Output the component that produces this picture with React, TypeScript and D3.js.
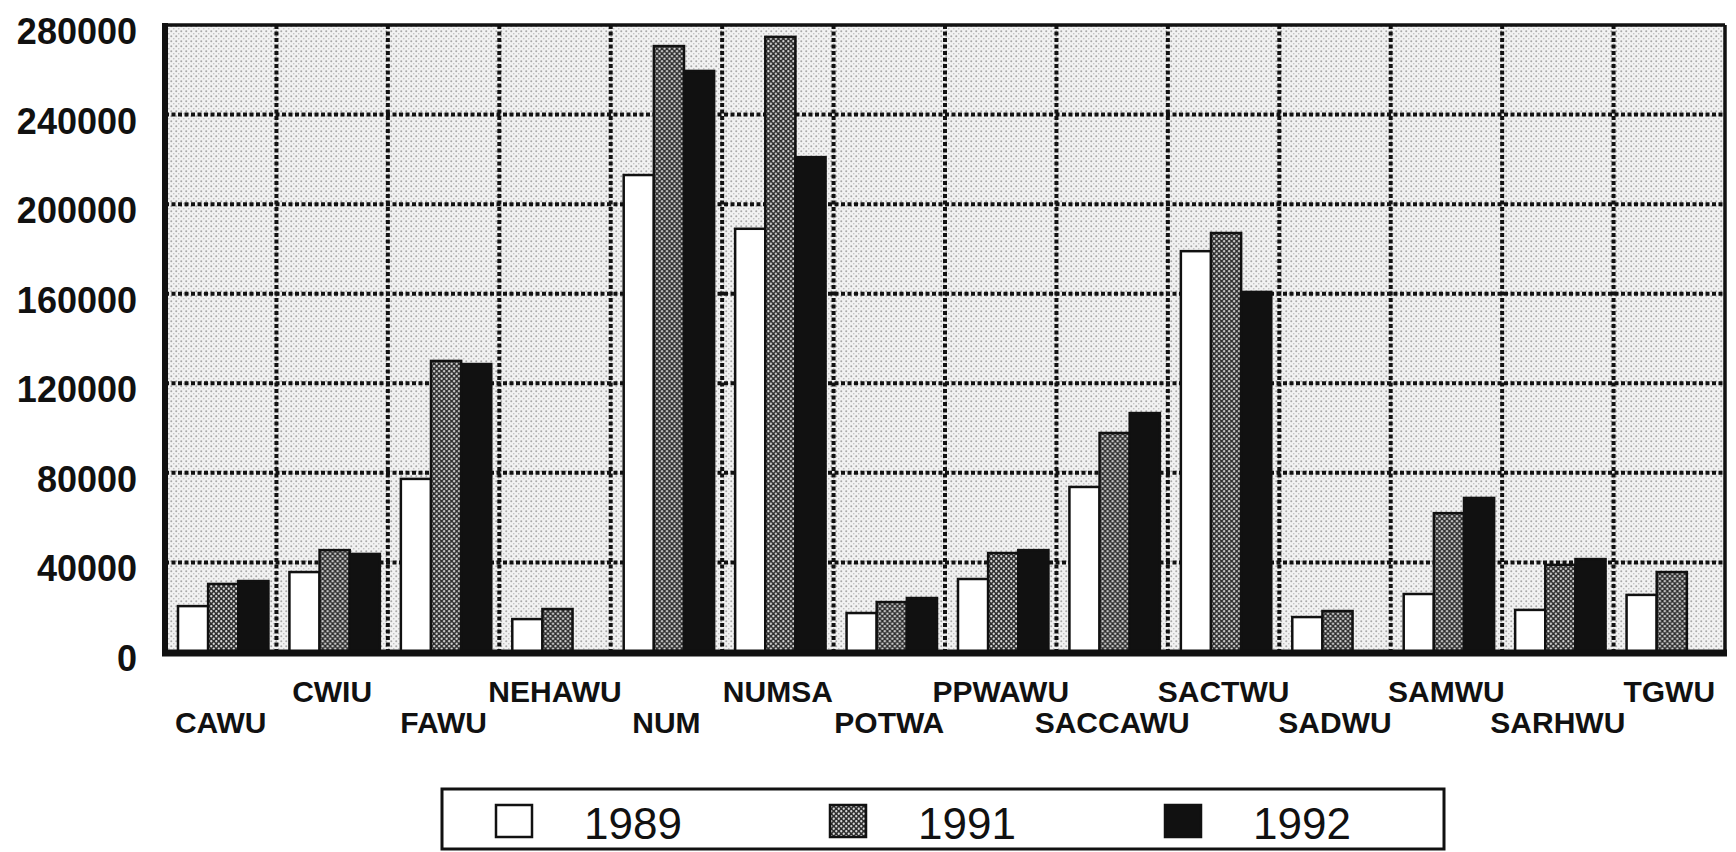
import React, { useRef, useEffect } from 'react';
import * as d3 from 'd3';

const categories = [
  'CAWU', 'CWIU', 'FAWU', 'NEHAWU', 'NUM', 'NUMSA', 'POTWA',
  'PPWAWU', 'SACCAWU', 'SACTWU', 'SADWU', 'SAMWU', 'SARHWU', 'TGWU',
];
const years = ['1989', '1991', '1992'];
const values1989 = [20500, 35700, 77300, 14700, 213000, 189000, 17400, 32600, 73700, 179000, 15600, 25900, 18800, 25500];
const values1991 = [30400, 45500, 130000, 19200, 270600, 274700, 22300, 44200, 97800, 187100, 18300, 62000, 38900, 35700];
const values1992 = [31700, 43800, 128600, 0, 259500, 221000, 24100, 45500, 106700, 160800, 0, 68800, 41500, 0];
const yTicks = [0, 40000, 80000, 120000, 160000, 200000, 240000, 280000];

const W = 1736;
const H = 852;

const App: React.FC = () => {
  const svgRef = useRef<SVGSVGElement | null>(null);

  useEffect(() => {
    if (!svgRef.current) return;
    const svg = d3.select(svgRef.current);
    svg.selectAll('*').remove();

    const margin = { top: 25, right: 11, bottom: 200, left: 165 };
    const font = '"Liberation Sans", Arial, Helvetica, sans-serif';

    const defs = svg.append('defs');
    // light stipple for the plot background
    const bg = defs.append('pattern').attr('id', 'stipple')
      .attr('patternUnits', 'userSpaceOnUse').attr('width', 5).attr('height', 5);
    bg.append('rect').attr('width', 5).attr('height', 5).attr('fill', '#f2f2f2');
    bg.append('circle').attr('cx', 1.25).attr('cy', 1.25).attr('r', 1).attr('fill', '#a8a8a8');
    bg.append('circle').attr('cx', 3.75).attr('cy', 3.75).attr('r', 0.8).attr('fill', '#bdbdbd');
    // dark halftone for 1991 bars
    const hp = defs.append('pattern').attr('id', 'halftone')
      .attr('patternUnits', 'userSpaceOnUse').attr('width', 5).attr('height', 5);
    hp.append('rect').attr('width', 5).attr('height', 5).attr('fill', '#2e2e2e');
    hp.append('circle').attr('cx', 1.25).attr('cy', 1.25).attr('r', 1.15).attr('fill', '#d8d8d8');
    hp.append('circle').attr('cx', 3.75).attr('cy', 3.75).attr('r', 1.15).attr('fill', '#d8d8d8');

    const fills: Record<string, string> = { '1989': '#ffffff', '1991': 'url(#halftone)', '1992': '#111111' };

    const x0 = d3.scaleBand()
      .domain(categories)
      .range([margin.left, W - margin.right])
      .padding(0);

    const x1 = d3.scaleBand()
      .domain(years)
      .range([13, x0.bandwidth() - 8])
      .padding(0);

    const y = d3.scaleLinear()
      .domain([0, 280000])
      .range([H - margin.bottom, margin.top]);

    const plotW = W - margin.right - margin.left;
    const y0 = y(0);

    svg.append('rect')
      .attr('x', margin.left).attr('y', margin.top)
      .attr('width', plotW).attr('height', y0 - margin.top)
      .attr('fill', 'url(#stipple)');

    // gridlines
    svg.append('g')
      .selectAll('line')
      .data(yTicks.slice(1, -1))
      .join('line')
      .attr('x1', margin.left).attr('x2', W - margin.right)
      .attr('y1', d => y(d)).attr('y2', d => y(d))
      .attr('stroke', '#111').attr('stroke-width', 4)
      .attr('stroke-dasharray', '4 2.5');

    svg.append('g')
      .selectAll('line')
      .data(categories.slice(1))
      .join('line')
      .attr('x1', d => x0(d)!).attr('x2', d => x0(d)!)
      .attr('y1', margin.top).attr('y2', y0)
      .attr('stroke', '#111').attr('stroke-width', 4)
      .attr('stroke-dasharray', '4 2.5');

    // bars
    const series = [values1989, values1991, values1992];
    const group = svg.append('g')
      .selectAll('g')
      .data(categories)
      .join('g')
      .attr('transform', d => `translate(${x0(d)},0)`);

    years.forEach((yr, si) => {
      group
        .selectAll(`rect.bar-${yr}`)
        .data((_, i) => [series[si][i]].filter(v => v > 0))
        .join('rect')
        .attr('class', `bar-${yr}`)
        .attr('x', () => x1(yr)!)
        .attr('y', d => y(d))
        .attr('width', x1.bandwidth())
        .attr('height', d => y0 - y(d))
        .attr('fill', fills[yr])
        .attr('stroke', '#111')
        .attr('stroke-width', 2.5);
    });

    // frame
    svg.append('line')
      .attr('x1', margin.left).attr('x2', W - margin.right)
      .attr('y1', margin.top).attr('y2', margin.top)
      .attr('stroke', '#111').attr('stroke-width', 3.5);
    svg.append('line')
      .attr('x1', W - margin.right).attr('x2', W - margin.right)
      .attr('y1', margin.top).attr('y2', y0)
      .attr('stroke', '#111').attr('stroke-width', 3.5);
    svg.append('line')
      .attr('x1', margin.left).attr('x2', margin.left)
      .attr('y1', margin.top - 2).attr('y2', y0 + 3)
      .attr('stroke', '#111').attr('stroke-width', 6);
    svg.append('line')
      .attr('x1', margin.left - 3).attr('x2', W - margin.right + 2)
      .attr('y1', y0 + 1).attr('y2', y0 + 1)
      .attr('stroke', '#111').attr('stroke-width', 7);

    // y tick labels
    svg.append('g')
      .selectAll('text')
      .data(yTicks)
      .join('text')
      .attr('x', 137)
      .attr('y', d => y(d) + 19)
      .attr('text-anchor', 'end')
      .attr('font-family', font)
      .attr('font-weight', 'bold')
      .attr('font-size', 36)
      .attr('fill', '#111')
      .text(d => String(d));

    // category labels, staggered
    svg.append('g')
      .selectAll('text')
      .data(categories)
      .join('text')
      .attr('x', d => x0(d)! + x0.bandwidth() / 2)
      .attr('y', (_, i) => (i % 2 === 0 ? 733 : 702))
      .attr('text-anchor', 'middle')
      .attr('font-family', font)
      .attr('font-weight', 'bold')
      .attr('font-size', 30)
      .attr('fill', '#111')
      .text(d => d);

    // legend
    const lg = svg.append('g');
    lg.append('rect')
      .attr('x', 442).attr('y', 789).attr('width', 1002).attr('height', 60)
      .attr('fill', '#fff').attr('stroke', '#111').attr('stroke-width', 3);
    const legendX = [496, 830, 1165];
    years.forEach((yr, i) => {
      lg.append('rect')
        .attr('x', legendX[i]).attr('y', 805).attr('width', 36).attr('height', 32)
        .attr('fill', fills[yr]).attr('stroke', '#111').attr('stroke-width', 2.5);
      lg.append('text')
        .attr('x', legendX[i] + 88).attr('y', 839)
        .attr('font-family', font)
        .attr('font-size', 44)
        .attr('fill', '#111')
        .text(yr);
    });
  }, []);

  return (
    <svg
      ref={svgRef}
      width={W}
      height={H}
      style={{ position: 'absolute', left: 0, top: 0, background: '#fff' }}
    />
  );
};

export default App;
